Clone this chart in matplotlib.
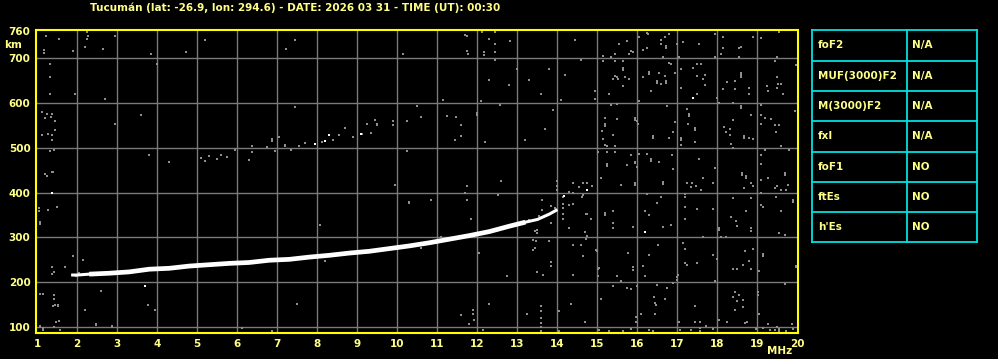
import matplotlib
matplotlib.use("Agg")
import matplotlib.pyplot as plt

# ionograma Tucumán 2026-03-31 00:30 UT
title = "Tucumán (lat: -26.9, lon: 294.6) - DATE: 2026 03 31 - TIME (UT): 00:30"

freq_ticks = list(range(1, 21))
height_ticks = [100, 200, 300, 400, 500, 600, 700, 760]

# traza F (MHz, km)
trace_f = [1.85, 2.0, 2.3, 2.8, 3.3, 3.8, 4.3, 4.8, 5.3, 5.8, 6.3, 6.8, 7.3, 7.8,
           8.3, 8.8, 9.3, 9.8, 10.3, 10.8, 11.3, 11.8, 12.3, 12.8, 13.2, 13.5,
           13.8, 14.0]
trace_h = [216, 216, 218, 220, 223, 229, 231, 236, 239, 242, 244, 249, 251, 256,
           260, 265, 269, 275, 281, 288, 296, 304, 313, 325, 334, 340, 352, 362]

# ecos blancos sueltos
bright_pts = [(1.38, 400), (3.69, 191), (7.94, 509), (8.19, 516), (8.29, 529),
              (9.09, 531), (14.17, 393), (14.75, 405), (16.2, 312), (17.38, 612)]

# ruido gris
noise_pts = [
    # 1-3 MHz
    (1.23, 749), (1.18, 719), (1.18, 712), (1.32, 687), (1.33, 657), (1.33, 621),
    (1.13, 580), (1.25, 576), (1.38, 575), (1.2, 566), (1.35, 568), (1.45, 560),
    (1.13, 529), (1.27, 531), (1.36, 529), (1.38, 518), (1.45, 540), (1.33, 492),
    (1.42, 494), (1.4, 447), (1.2, 441), (1.25, 437), (1.36, 445), (1.04, 366),
    (1.04, 360), (1.27, 361), (1.5, 368), (1.06, 334), (1.06, 329), (1.38, 235),
    (1.42, 222), (1.38, 218), (1.08, 174), (1.15, 174), (1.43, 171), (1.43, 162),
    (1.45, 150), (1.4, 146), (1.06, 100), (1.15, 98), (1.42, 99), (1.07, 103),
    (1.15, 94), (1.57, 94), (1.55, 743), (1.89, 715), (2.24, 758), (2.28, 749),
    (2.24, 743), (2.19, 726), (2.64, 721), (2.94, 749), (1.53, 146), (1.53, 150),
    (2.19, 139), (1.48, 112), (1.54, 114), (2.46, 107), (2.48, 104), (2.88, 103),
    (2.88, 99), (1.86, 217), (1.98, 214), (2.04, 221), (1.7, 235), (1.95, 619),
    (2.7, 608), (2.95, 552), (2.15, 250), (1.9, 258), (2.6, 180),
    # 3-12 MHz
    (3.84, 709), (4.73, 713), (5.19, 741), (7.23, 721), (7.44, 741), (3.78, 148),
    (3.94, 139), (6.13, 98), (6.88, 90), (7.49, 152), (3.8, 485), (4.3, 469),
    (4.0, 686), (3.6, 574), (5.1, 478), (5.3, 481), (5.5, 476), (5.6, 483),
    (5.75, 479), (5.2, 470), (5.95, 496), (6.3, 473), (6.38, 505), (6.38, 490),
    (6.74, 501), (6.88, 520), (6.88, 516), (6.94, 492), (7.04, 523), (7.19, 507),
    (7.19, 503), (7.34, 496), (7.44, 591), (7.55, 505), (7.69, 511), (8.11, 512),
    (8.38, 518), (8.53, 528), (8.69, 544), (8.88, 523), (9.12, 531), (9.23, 552),
    (9.34, 534), (9.44, 563), (9.48, 554), (9.48, 550), (9.88, 559), (9.88, 550),
    (10.23, 559), (10.23, 492), (10.48, 594), (10.59, 568), (11.13, 607),
    (11.24, 572), (11.46, 568), (11.58, 550), (11.58, 526), (11.43, 518),
    (11.98, 578), (11.98, 574), (12.08, 604), (12.19, 514), (10.14, 709),
    (10.28, 380), (10.28, 376), (10.83, 383), (11.84, 342), (12.05, 266),
    (9.95, 418), (8.07, 328), (11.7, 399), (11.73, 414), (11.73, 384),
    (11.58, 126), (11.88, 130), (11.88, 137), (11.91, 115), (11.79, 107),
    (12.15, 94), (12.28, 152), (8.2, 248), (10.6, 276), (11.1, 300),
    # 12-15 MHz
    (11.69, 751), (11.75, 749), (11.73, 715), (11.77, 709), (12.11, 758),
    (12.44, 758), (12.28, 743), (12.44, 731), (12.17, 713), (12.17, 708),
    (12.45, 713), (12.82, 738), (12.44, 697), (12.3, 652), (12.56, 596),
    (12.8, 641), (13.0, 675), (13.3, 652), (13.6, 619), (13.9, 585), (13.2, 518),
    (13.7, 541), (14.2, 663), (14.45, 741), (14.6, 697), (13.78, 675), (14.1, 607),
    (12.52, 395), (12.59, 425), (12.6, 425), (12.73, 213), (13.61, 383),
    (13.83, 371), (13.61, 362), (13.49, 317), (13.49, 310), (13.84, 333),
    (13.47, 292), (13.8, 293), (13.4, 272), (13.44, 315), (13.38, 295),
    (13.44, 276), (13.83, 245), (13.83, 237), (13.63, 217), (13.49, 222),
    (13.99, 425), (13.99, 414), (14.0, 406), (14.15, 366), (14.15, 340),
    (14.13, 390), (14.13, 375), (14.13, 352), (14.4, 375), (14.39, 421),
    (14.54, 412), (14.65, 421), (14.61, 390), (14.72, 353), (14.68, 311),
    (14.71, 296), (14.4, 284), (14.6, 284), (14.28, 321), (14.74, 421),
    (14.86, 414), (14.4, 399), (14.3, 402), (14.64, 395), (14.28, 373),
    (14.84, 341), (14.75, 352), (14.74, 302), (14.64, 259), (14.4, 217),
    (14.97, 271), (15.03, 232), (13.24, 130), (13.59, 147), (13.59, 135),
    (13.59, 120), (13.59, 110), (13.59, 100), (13.59, 92), (14.03, 135),
    (14.03, 92), (14.34, 152), (14.69, 112), (15.03, 94), (14.93, 627),
    (14.93, 608), (13.3, 338), (13.55, 347), (13.95, 366),
    # 15-20 MHz
    (15.53, 731), (15.73, 739), (15.83, 716), (15.89, 713), (15.79, 709),
    (15.43, 709), (15.33, 703), (15.14, 705), (16.03, 748), (16.23, 757),
    (16.27, 755), (16.14, 718), (16.23, 722), (16.58, 740), (16.68, 748),
    (16.78, 755), (16.6, 731), (16.72, 727), (16.72, 722), (16.63, 703),
    (16.98, 731), (17.14, 735), (17.53, 731), (17.03, 703), (17.93, 754),
    (18.14, 748), (18.14, 722), (18.08, 709), (18.58, 725), (18.53, 722),
    (18.53, 703), (17.95, 703), (18.9, 748), (19.08, 745), (19.53, 758),
    (19.48, 703), (19.43, 694), (15.14, 693), (15.43, 693), (15.64, 693),
    (15.63, 678), (15.63, 673), (15.43, 660), (15.48, 657), (15.52, 653),
    (15.39, 653), (15.68, 657), (15.78, 653), (15.64, 638), (15.28, 621),
    (16.28, 669), (16.28, 664), (16.14, 658), (16.48, 650), (16.48, 645),
    (16.53, 666), (16.68, 661), (16.72, 650), (16.72, 645), (16.58, 642),
    (16.78, 690), (16.83, 688), (16.93, 668), (16.33, 627), (16.03, 605),
    (17.08, 675), (17.39, 679), (17.48, 688), (17.58, 688), (17.48, 660),
    (17.64, 653), (17.68, 663), (17.68, 640), (17.08, 634), (17.48, 621),
    (17.98, 612), (18.13, 631), (18.23, 646), (18.43, 648), (18.43, 631),
    (18.58, 667), (18.58, 663), (18.58, 657), (18.78, 634), (18.78, 621),
    (19.23, 638), (19.48, 657), (19.52, 643), (19.58, 643), (19.48, 634),
    (19.27, 627), (19.64, 621), (19.96, 685),
    (15.35, 596), (15.48, 597), (15.18, 567), (15.48, 564), (15.93, 567),
    (15.93, 562), (15.18, 552), (15.18, 548), (15.98, 560), (16.02, 554),
    (15.12, 537), (15.39, 528), (15.14, 519), (15.18, 507), (15.43, 504),
    (15.23, 505), (16.73, 593), (16.93, 558), (16.4, 526), (16.4, 521),
    (16.78, 522), (16.89, 536), (17.23, 586), (17.28, 575), (17.28, 570),
    (17.26, 552), (17.43, 545), (17.43, 540), (17.08, 522), (17.08, 517),
    (17.43, 513), (17.1, 506), (18.03, 599), (18.38, 599), (18.58, 593),
    (18.58, 588), (18.83, 573), (18.38, 563), (18.17, 546), (18.32, 541),
    (18.22, 536), (18.32, 528), (18.67, 526), (18.67, 521), (18.8, 522),
    (18.88, 519), (18.33, 509), (19.08, 596), (19.08, 573), (19.18, 567),
    (19.35, 564), (19.08, 554), (19.43, 551), (19.53, 550), (19.47, 536),
    (19.93, 582), (19.58, 505),
    (15.02, 491), (15.23, 491), (15.43, 491), (15.83, 483), (15.93, 469),
    (15.93, 465), (15.23, 463), (15.23, 459), (15.73, 461), (15.08, 433),
    (15.58, 418), (15.93, 422), (15.93, 418), (16.03, 487), (16.23, 487),
    (16.33, 475), (16.33, 470), (16.53, 469), (16.87, 483), (16.89, 452),
    (16.64, 424), (16.64, 420), (15.98, 457), (17.53, 474), (17.93, 455),
    (17.65, 433), (17.25, 422), (17.37, 422), (17.35, 412), (17.58, 405),
    (17.47, 414), (17.88, 422), (18.38, 500), (18.62, 444), (18.62, 440),
    (18.72, 437), (18.72, 432), (18.83, 422), (18.67, 411), (18.88, 414),
    (19.18, 496), (19.08, 483), (19.08, 464), (19.68, 444), (19.68, 440),
    (19.27, 433), (19.08, 427), (19.43, 410), (19.5, 414), (19.58, 405),
    (19.72, 405), (19.77, 418), (19.8, 496),
    (15.18, 355), (15.18, 351), (15.39, 360), (15.39, 332), (15.39, 320),
    (15.89, 323), (16.23, 396), (16.48, 377), (16.58, 390), (16.2, 360),
    (16.3, 351), (16.64, 323), (16.83, 328), (17.18, 396), (17.18, 391),
    (17.18, 368), (17.18, 342), (17.48, 364), (17.9, 364), (17.64, 300),
    (18.03, 321), (18.03, 316), (18.38, 387), (18.33, 346), (18.47, 337),
    (18.5, 325), (18.83, 387), (18.72, 360), (18.83, 322), (18.83, 315),
    (18.08, 300), (18.22, 300), (19.08, 399), (19.08, 373), (19.14, 367),
    (19.47, 390), (19.58, 360), (19.53, 310), (19.68, 306), (19.89, 384),
    (19.89, 380),
    (14.98, 270), (15.02, 230), (15.02, 213), (15.77, 265), (15.48, 213),
    (15.58, 203), (15.89, 233), (15.89, 228), (16.28, 261), (16.52, 284),
    (16.14, 236), (16.18, 213), (16.98, 211), (16.98, 206), (17.14, 287),
    (17.18, 275), (17.18, 243), (17.23, 239), (17.48, 243), (17.9, 261),
    (17.98, 252), (17.02, 217), (17.94, 203), (18.68, 270), (18.89, 275),
    (18.78, 248), (18.65, 239), (18.4, 230), (18.48, 230), (18.83, 230),
    (19.13, 263), (19.13, 258), (19.03, 226), (19.96, 237), (19.96, 233),
    (15.39, 191), (15.73, 186), (15.83, 184), (15.98, 191), (16.48, 194),
    (16.73, 186), (16.42, 168), (16.68, 163), (15.1, 163), (18.43, 179),
    (18.53, 171), (18.4, 168), (18.5, 157), (19.02, 179), (19.02, 171),
    (19.68, 196), (16.89, 198),
    (15.28, 92), (15.65, 92), (15.85, 96), (15.97, 123), (15.97, 112),
    (16.09, 130), (16.45, 154), (16.47, 148), (16.45, 130), (16.4, 92),
    (16.3, 94), (17.03, 112), (17.07, 94), (17.34, 94), (17.44, 147),
    (17.44, 112), (17.57, 112), (17.57, 98), (17.57, 92), (17.72, 103),
    (17.9, 96), (18.03, 116), (18.24, 112), (18.44, 139), (18.63, 145),
    (18.63, 160), (18.74, 112), (18.7, 108), (19.05, 130), (18.97, 96),
    (19.15, 98), (19.27, 107), (19.32, 94), (19.45, 94), (19.5, 101),
    (19.55, 96), (19.55, 90), (19.72, 90), (19.86, 107), (19.9, 96),
]

table_labels = ["foF2", "MUF(3000)F2", "M(3000)F2", "fxI", "foF1", "ftEs", "h'Es"]
table_values = ["N/A", "N/A", "N/A", "N/A", "NO", "NO", "NO"]

W, H = 998, 359
yellow = "#ffff00"
txt_yellow = "#ffff88"
cyan = "#00e0e0"
grey = "#8e8e8e"
grid_grey = "#7a7a7a"

fig = plt.figure(figsize=(W / 100, H / 100), dpi=100, facecolor="black")
ax = fig.add_axes([36 / W, (H - 333) / H, (797.5 - 36) / W, (333 - 29.5) / H])
ax.set_facecolor("black")
ax.set_xlim(0.97, 20.0)
ax.set_ylim(86.6, 764)

for f in freq_ticks[1:-1]:
    ax.axvline(f, color=grid_grey, lw=1.0, zorder=1)
for h in height_ticks[:-1]:
    ax.axhline(h, color=grid_grey, lw=1.0, zorder=1)

nf, nh = zip(*noise_pts)
ax.plot(nf, nh, ls="none", marker="s", ms=1.6, mew=0, color=grey, zorder=2)

ax.plot(trace_f, trace_h, color="white", lw=2.2, solid_capstyle="butt", zorder=3)
ax.plot(trace_f[2:-3], trace_h[2:-3], color="white", lw=3.4,
        solid_capstyle="butt", zorder=3)
bf, bh = zip(*bright_pts)
ax.plot(bf, bh, ls="none", marker="s", ms=1.6, mew=0, color="white", zorder=3)

ax.set_xticks(freq_ticks)
ax.set_yticks(height_ticks)
ax.tick_params(length=0, colors=txt_yellow, labelsize=7.5, pad=4)
for lab in ax.get_xticklabels() + ax.get_yticklabels():
    lab.set_fontweight("bold")
for sp in ax.spines.values():
    sp.set_color(yellow)
    sp.set_linewidth(1.5)
    sp.set_zorder(5)

fig.text(295 / W, 1 - 7.5 / H, title, color=txt_yellow, fontsize=7.5,
         fontweight="bold", ha="center", va="center")
fig.text(13 / W, 1 - 45 / H, "km", color=txt_yellow, fontsize=7.5,
         fontweight="bold", ha="center", va="center")
fig.text(780 / W, 1 - 351 / H, "MHz", color=txt_yellow, fontsize=7.5,
         fontweight="bold", ha="center", va="center")

# tabla de parámetros
tx = fig.add_axes([812.3 / W, (H - 242.5) / H, (977.3 - 812.3) / W, (242.5 - 30.3) / H])
tx.set_xlim(0, 1)
tx.set_ylim(len(table_labels), 0)
tx.axis("off")
tx.set_facecolor("black")
n = len(table_labels)
for i in range(n + 1):
    tx.plot([0, 1], [i, i], color=cyan, lw=1.3, clip_on=False)
for xv in [0, 95 / 165, 1]:
    tx.plot([xv, xv], [0, n], color=cyan, lw=1.3, clip_on=False)
for i, (lab, val) in enumerate(zip(table_labels, table_values)):
    tx.text(5.5 / 165, i + 0.5, lab, color=txt_yellow, fontsize=7.5,
            fontweight="bold", va="center", ha="left")
    tx.text(100 / 165, i + 0.5, val, color=txt_yellow, fontsize=7.5,
            fontweight="bold", va="center", ha="left")

fig.savefig("out.png", dpi=100, facecolor="black")
